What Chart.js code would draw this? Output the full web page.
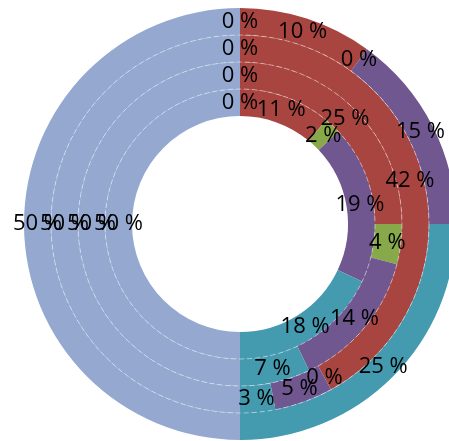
<!DOCTYPE html>
<html>
<head>
<meta charset="utf-8">
<script src="https://cdn.jsdelivr.net/npm/chart.js@4/dist/chart.umd.min.js"></script>
<style>
  html, body { margin: 0; padding: 0; background: #fff; overflow: hidden; }
  #wrap { width: 449px; height: 441px; overflow: hidden; position: relative; }
  #ringChart { position: absolute; left: 0; top: 0; }
</style>
</head>
<body>
<div id="wrap"><canvas id="ringChart" width="480" height="448"></canvas></div>
<script>
// categories, clockwise from 12 o'clock
var categories = ['A', 'B', 'C', 'D', 'E', 'F'];
var colors = ['#94A8D0', '#A94541', '#87A94A', '#70578F', '#449AAF', '#94A8D0'];

// one array per ring, outermost first
var ring1 = [0, 10, 0, 15, 25, 50];
var ring2 = [0, 42, 0, 5, 3, 50];
var ring3 = [0, 25, 4, 14, 7, 50];
var ring4 = [0, 11, 2, 19, 18, 50];

var rings = [ring1, ring2, ring3, ring4];

// percent text in the middle of every slice
const sliceLabels = {
  id: 'sliceLabels',
  afterDatasetsDraw(chart) {
    const ctx = chart.ctx;
    ctx.save();
    ctx.fillStyle = '#000';
    ctx.font = '22px "Open Sans"';
    ctx.textAlign = 'center';
    ctx.textBaseline = 'middle';
    chart.data.datasets.forEach(function(ds, i) {
      const meta = chart.getDatasetMeta(i);
      meta.data.forEach(function(arc, j) {
        const pos = arc.tooltipPosition();
        ctx.fillText(ds.data[j] + ' %', pos.x, pos.y);
      });
    });
    ctx.restore();
  }
};

// faint white lines between the rings
const ringLines = {
  id: 'ringLines',
  afterDatasetsDraw(chart) {
    const ctx = chart.ctx;
    ctx.save();
    ctx.strokeStyle = 'rgba(255,255,255,0.45)';
    ctx.lineWidth = 1;
    ctx.setLineDash([5, 3]);
    for (let i = 1; i < chart.data.datasets.length; i++) {
      const arc = chart.getDatasetMeta(i).data[0];
      ctx.beginPath();
      ctx.arc(arc.x, arc.y, arc.outerRadius, 0, Math.PI * 2);
      ctx.stroke();
    }
    ctx.restore();
  }
};

const data = {
  labels: categories,
  datasets: rings.map(function(r) {
    return {
      data: r,
      backgroundColor: colors,
      borderWidth: 0
    };
  })
};

const config = {
  type: 'doughnut',
  data: data,
  options: {
    responsive: false,
    animation: false,
    events: [],
    cutout: '50%',
    layout: { padding: 8 },
    plugins: {
      legend: { display: false },
      tooltip: { enabled: false }
    }
  },
  plugins: [ringLines, sliceLabels]
};

const ringChart = new Chart(document.getElementById('ringChart'), config);
</script>
</body>
</html>
